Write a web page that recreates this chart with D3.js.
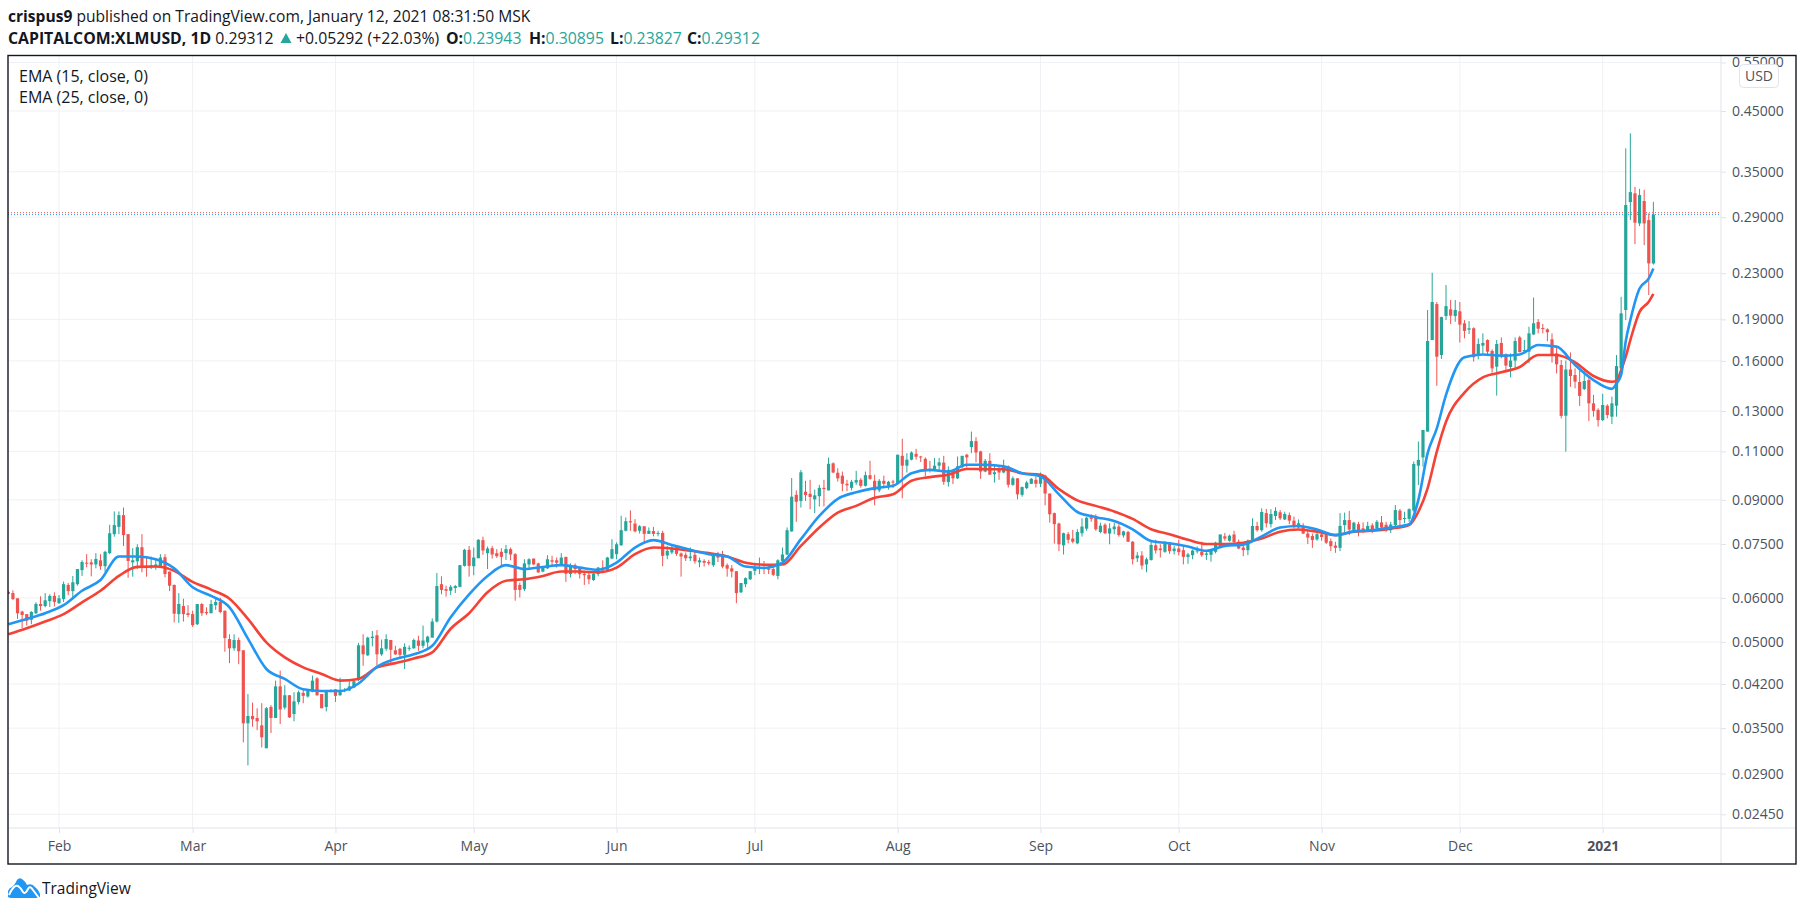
<!DOCTYPE html>
<html>
<head>
<meta charset="utf-8">
<script src="https://cdn.jsdelivr.net/npm/d3@7"></script>
<style>
  html, body { margin: 0; padding: 0; background: #fff; }
  svg { display: block; }
  text { font-family: "Open Sans", sans-serif; }
</style>
</head>
<body>
<svg id="chart" width="1805" height="911"></svg>
<script>
// daily candles, each row is open, high, low, close. first row of jan2020 is Jan 21
const jan2020 = [[.0615,.0618,.0609,.0610],[.0612,.0619,.0595,.0597],[.0599,.0599,.0550,.0563],[.0567,.0569,.0529,.0559],[.0561,.0561,.0535,.0546],[.0548,.0568,.0538,.0566],[.0563,.0589,.0561,.0585],[.0585,.0604,.0569,.0580],[.0580,.0612,.0577,.0594],[.0592,.0609,.0578,.0605],[.0605,.0614,.0579,.0590]];
const feb2020 = [[.0587,.0607,.0585,.0599],[.0597,.0642,.0590,.0635],[.0633,.0638,.0607,.0617],[.0617,.0657,.0597,.0640],[.0635,.0676,.0631,.0676],[.0673,.0701,.0657,.0696],[.0694,.0719,.0681,.0692],[.0695,.0704,.0656,.0689],[.0689,.0722,.0678,.0705],[.0701,.0719,.0674,.0684],[.0684,.0729,.0668,.0726],[.0722,.0812,.0719,.0784],[.0781,.0858,.0773,.0811],[.0805,.0858,.0781,.0845],[.0845,.0872,.0744,.0778],[.0781,.0781,.0652,.0699],[.0695,.0737,.0655,.0701],[.0698,.0749,.0676,.0740],[.0740,.0781,.0667,.0683],[.0685,.0709,.0655,.0680],[.0681,.0712,.0676,.0687],[.0683,.0704,.0674,.0689],[.0683,.0719,.0680,.0709],[.0710,.0719,.0653,.0662],[.0669,.0669,.0617,.0631],[.0633,.0634,.0542,.0562],[.0561,.0612,.0541,.0585],[.0580,.0598,.0544,.0561],[.0563,.0582,.0554,.0559]];
const mar2020 = [[.0561,.0569,.0532,.0536],[.0538,.0585,.0536,.0585],[.0585,.0587,.0557,.0563],[.0566,.0577,.0559,.0563],[.0563,.0595,.0563,.0585],[.0582,.0597,.0571,.0590],[.0590,.0600,.0563,.0566],[.0569,.0569,.0480,.0508],[.0506,.0516,.0458,.0487],[.0487,.0516,.0482,.0504],[.0504,.0509,.0456,.0481],[.0483,.0483,.0330,.0357],[.0357,.0403,.0300,.0368],[.0368,.0389,.0352,.0363],[.0365,.0380,.0347,.0360],[.0354,.0388,.0323,.0337],[.0322,.0382,.0322,.0380],[.0382,.0385,.0343,.0365],[.0365,.0426,.0365,.0416],[.0416,.0444,.0356,.0378],[.0381,.0418,.0378,.0401],[.0401,.0401,.0365,.0366],[.0371,.0406,.0360,.0391],[.0390,.0409,.0386,.0406],[.0405,.0411,.0388,.0400],[.0399,.0411,.0397,.0408],[.0407,.0435,.0406,.0426],[.0430,.0432,.0400,.0401],[.0403,.0403,.0380,.0380],[.0382,.0410,.0375,.0408],[.0407,.0411,.0406,.0410]];
const apr2020 = [[.0411,.0411,.0390,.0400],[.0401,.0431,.0400,.0410],[.0408,.0413,.0406,.0410],[.0409,.0425,.0408,.0416],[.0414,.0428,.0413,.0425],[.0427,.0498,.0425,.0493],[.0493,.0516,.0453,.0475],[.0473,.0511,.0472,.0509],[.0508,.0523,.0491,.0511],[.0514,.0525,.0453,.0475],[.0475,.0505,.0472,.0487],[.0486,.0516,.0482,.0506],[.0504,.0504,.0456,.0484],[.0483,.0492,.0474,.0475],[.0486,.0488,.0466,.0474],[.0474,.0497,.0447,.0490],[.0487,.0493,.0482,.0488],[.0487,.0507,.0486,.0504],[.0503,.0513,.0482,.0492],[.0492,.0535,.0487,.0503],[.0499,.0513,.0488,.0511],[.0509,.0551,.0509,.0544],[.0544,.0665,.0542,.0630],[.0635,.0656,.0609,.0620],[.0622,.0631,.0603,.0618],[.0618,.0633,.0607,.0628],[.0625,.0633,.0612,.0630],[.0628,.0687,.0627,.0687],[.0685,.0735,.0683,.0732],[.0732,.0744,.0655,.0685]];
const may2020 = [[.0684,.0739,.0659,.0709],[.0707,.0765,.0707,.0763],[.0762,.0773,.0717,.0730],[.0722,.0742,.0676,.0736],[.0737,.0744,.0706,.0718],[.0722,.0734,.0708,.0713],[.0726,.0737,.0683,.0711],[.0722,.0747,.0702,.0734],[.0734,.0739,.0701,.0718],[.0719,.0722,.0593,.0620],[.0633,.0639,.0601,.0620],[.0622,.0704,.0617,.0692],[.0689,.0707,.0676,.0704],[.0706,.0706,.0687,.0689],[.0692,.0694,.0665,.0667],[.0669,.0683,.0667,.0680],[.0678,.0716,.0676,.0704],[.0701,.0714,.0683,.0697],[.0701,.0709,.0680,.0694],[.0690,.0722,.0688,.0709],[.0711,.0711,.0641,.0663],[.0662,.0692,.0653,.0687],[.0687,.0692,.0662,.0676],[.0678,.0683,.0650,.0662],[.0663,.0671,.0633,.0659],[.0660,.0667,.0635,.0648],[.0646,.0669,.0644,.0663],[.0662,.0682,.0656,.0680],[.0680,.0701,.0667,.0672],[.0672,.0711,.0670,.0709],[.0706,.0765,.0704,.0734]];
const jun2020 = [[.0719,.0755,.0704,.0749],[.0746,.0843,.0744,.0794],[.0792,.0837,.0790,.0824],[.0824,.0862,.0792,.0820],[.0816,.0831,.0787,.0790],[.0792,.0811,.0783,.0807],[.0807,.0807,.0755,.0782],[.0782,.0803,.0782,.0792],[.0791,.0805,.0774,.0782],[.0782,.0792,.0774,.0785],[.0785,.0792,.0684,.0714],[.0715,.0744,.0704,.0729],[.0724,.0747,.0719,.0739],[.0740,.0744,.0714,.0720],[.0721,.0724,.0655,.0712],[.0717,.0724,.0699,.0707],[.0707,.0739,.0699,.0712],[.0717,.0729,.0691,.0698],[.0695,.0709,.0681,.0701],[.0699,.0704,.0683,.0694],[.0696,.0702,.0687,.0692],[.0687,.0722,.0682,.0719],[.0718,.0726,.0696,.0709],[.0719,.0729,.0678,.0683],[.0687,.0692,.0655,.0677],[.0678,.0687,.0653,.0669],[.0670,.0670,.0587,.0612],[.0614,.0638,.0612,.0638],[.0635,.0653,.0627,.0651],[.0648,.0671,.0646,.0670]];
const jul2020 = [[.0671,.0694,.0659,.0680],[.0680,.0709,.0662,.0678],[.0679,.0699,.0662,.0676],[.0678,.0689,.0662,.0674],[.0676,.0683,.0657,.0660],[.0657,.0704,.0648,.0701],[.0699,.0739,.0696,.0718],[.0718,.0803,.0716,.0794],[.0790,.0985,.0789,.0912],[.0919,.0936,.0822,.0893],[.0896,.1019,.0872,.1009],[.0931,.0974,.0896,.0918],[.0923,.0978,.0866,.0911],[.0902,.0939,.0852,.0917],[.0914,.0958,.0876,.0946],[.0946,.0978,.0876,.0941],[.0936,.1072,.0936,.1045],[.1047,.1051,.1005,.1008],[.1007,.1026,.0971,.0984],[.0995,.1012,.0933,.0962],[.0962,.0978,.0933,.0956],[.0946,.0978,.0936,.0970],[.0967,.1015,.0958,.0977],[.0978,.0985,.0947,.0954],[.0954,.1012,.0951,.0997],[.0997,.1058,.0978,.0982],[.0974,.0999,.0880,.0936],[.0936,.0981,.0929,.0974],[.0974,.0995,.0945,.0962],[.0955,.0974,.0939,.0970],[.0971,.0978,.0945,.0967]];
const aug2020 = [[.0962,.1085,.0958,.1085],[.1080,.1159,.0906,.1037],[.1037,.1092,.1008,.1063],[.1063,.1100,.1060,.1095],[.1089,.1112,.1063,.1076],[.1077,.1080,.1053,.1073],[.1067,.1073,.0992,.1015],[.1022,.1058,.1008,.1015],[.1019,.1070,.1016,.1037],[.1037,.1070,.1019,.1051],[.1050,.1080,.0958,.0970],[.0969,.1034,.0951,.1019],[.1015,.1019,.0961,.0984],[.0984,.1077,.0981,.1034],[.1031,.1080,.1026,.1080],[.1085,.1089,.1029,.1073],[.1120,.1194,.1092,.1148],[.1148,.1167,.1051,.1095],[.1100,.1103,.0982,.1012],[.1012,.1066,.1009,.1058],[.1058,.1092,.0999,.0999],[.1001,.1044,.0967,.1009],[.1019,.1034,.0978,.1008],[.1008,.1063,.1005,.1034],[.1034,.1038,.0947,.0958],[.0958,.0992,.0954,.0984],[.0984,.0985,.0902,.0921],[.0919,.0951,.0912,.0949],[.0945,.0974,.0941,.0967],[.0962,.0985,.0961,.0982],[.0978,.0992,.0947,.0962]];
const sep2020 = [[.0962,.1008,.0949,.0992],[.0995,.0999,.0880,.0924],[.0924,.0924,.0819,.0848],[.0852,.0854,.0751,.0814],[.0816,.0819,.0728,.0749],[.0746,.0786,.0718,.0784],[.0781,.0788,.0752,.0763],[.0767,.0795,.0752,.0757],[.0752,.0797,.0749,.0788],[.0784,.0834,.0773,.0806],[.0799,.0838,.0792,.0836],[.0838,.0848,.0822,.0832],[.0842,.0848,.0792,.0797],[.0788,.0819,.0784,.0809],[.0812,.0817,.0781,.0784],[.0783,.0817,.0749,.0800],[.0797,.0819,.0781,.0806],[.0806,.0814,.0773,.0778],[.0777,.0792,.0770,.0790],[.0788,.0792,.0756,.0757],[.0757,.0759,.0689,.0704],[.0707,.0725,.0696,.0715],[.0715,.0728,.0675,.0686],[.0689,.0709,.0667,.0704],[.0702,.0756,.0700,.0747],[.0746,.0763,.0721,.0730],[.0736,.0749,.0709,.0731],[.0726,.0759,.0723,.0756],[.0752,.0756,.0720,.0728],[.0728,.0744,.0718,.0736]];
const oct2020 = [[.0736,.0763,.0715,.0725],[.0731,.0744,.0689,.0711],[.0711,.0723,.0691,.0718],[.0716,.0733,.0704,.0730],[.0727,.0742,.0721,.0730],[.0726,.0757,.0711,.0716],[.0717,.0728,.0702,.0721],[.0717,.0733,.0697,.0729],[.0726,.0757,.0721,.0754],[.0743,.0780,.0739,.0780],[.0774,.0785,.0760,.0767],[.0760,.0780,.0757,.0776],[.0780,.0792,.0752,.0756],[.0757,.0764,.0734,.0736],[.0739,.0750,.0713,.0731],[.0731,.0764,.0716,.0760],[.0760,.0834,.0757,.0808],[.0808,.0822,.0789,.0794],[.0794,.0869,.0789,.0856],[.0852,.0867,.0803,.0817],[.0814,.0866,.0803,.0849],[.0842,.0873,.0828,.0860],[.0855,.0863,.0828,.0834],[.0830,.0857,.0828,.0849],[.0845,.0854,.0814,.0826],[.0826,.0840,.0800,.0808],[.0803,.0830,.0800,.0817],[.0808,.0817,.0781,.0783],[.0783,.0792,.0750,.0770],[.0775,.0783,.0738,.0762],[.0764,.0789,.0760,.0781]];
const nov2020 = [[.0780,.0787,.0760,.0772],[.0778,.0783,.0750,.0754],[.0759,.0767,.0728,.0743],[.0745,.0757,.0723,.0738],[.0738,.0852,.0728,.0808],[.0811,.0854,.0783,.0828],[.0828,.0860,.0778,.0796],[.0792,.0822,.0785,.0819],[.0814,.0822,.0774,.0792],[.0800,.0820,.0785,.0792],[.0792,.0822,.0789,.0808],[.0810,.0817,.0785,.0792],[.0800,.0828,.0792,.0822],[.0820,.0842,.0791,.0803],[.0812,.0822,.0789,.0794],[.0794,.0822,.0785,.0813],[.0811,.0881,.0808,.0863],[.0861,.0867,.0806,.0828],[.0833,.0857,.0817,.0835],[.0832,.0869,.0822,.0866],[.0861,.1055,.0857,.1044],[.1037,.1146,.0957,.1062],[.1073,.1202,.1033,.1202],[.1194,.1975,.1194,.1737],[.1744,.2304,.1744,.2041],[.2024,.2041,.1443,.1628],[.1639,.1921,.1613,.1918],[.1926,.2190,.1894,.2007],[.1980,.2058,.1864,.1929],[.1926,.2058,.1881,.1975]];
const dec2020 = [[.1964,.2041,.1726,.1859],[.1869,.1894,.1756,.1811],[.1821,.1886,.1788,.1831],[.1831,.1838,.1595,.1624],[.1635,.1756,.1610,.1716],[.1704,.1793,.1650,.1723],[.1744,.1749,.1639,.1662],[.1667,.1678,.1524,.1551],[.1562,.1744,.1386,.1716],[.1723,.1763,.1617,.1628],[.1643,.1650,.1536,.1569],[.1560,.1650,.1495,.1602],[.1602,.1763,.1540,.1737],[.1763,.1775,.1657,.1659],[.1664,.1744,.1650,.1673],[.1662,.1843,.1584,.1793],[.1785,.2079,.1780,.1869],[.1879,.1902,.1793,.1828],[.1833,.1864,.1793,.1826],[.1823,.1831,.1735,.1801],[.1749,.1793,.1589,.1643],[.1650,.1697,.1519,.1577],[.1573,.1606,.1261,.1274],[.1275,.1602,.1099,.1544],[.1544,.1657,.1437,.1503],[.1509,.1551,.1428,.1468],[.1466,.1540,.1328,.1384],[.1424,.1534,.1418,.1472],[.1478,.1489,.1247,.1342],[.1342,.1390,.1270,.1301],[.1306,.1315,.1219,.1252]];
const jan2021 = [[.1252,.1396,.1247,.1333],[.1329,.1337,.1261,.1279],[.1270,.1380,.1232,.1342],[.1329,.1639,.1270,.1566],[.1551,.2086,.1540,.1948],[.1975,.3855,.1894,.3049],[.3087,.4102,.2865,.3217],[.3200,.3289,.2594,.2834],[.2826,.3261,.2795,.3178],[.3100,.3248,.2583,.2826],[.2865,.2946,.2101,.2395],[.23943,.30895,.23827,.29312]];

// EMA lines, days are counted from Jan 21 2020
const emaDays = [0,4,8,12,16,20,24,28,32,36,40,44,48,52,56,60,64,68,72,76,80,84,88,92,96,100,104,108,112,116,120,124,128,132,136,140,144,148,152,156,160,164,168,172,176,180,184,188,192,196,200,204,208,212,216,220,224,228,232,236,240,244,248,252,256,260,264,268,272,276,280,284,288,292,296,300,304,306,308,310,312,316,320,324,328,332,336,340,344,348,349,350,351,352,354,356,357];
const ema15 = [.0538,.0550,.0563,.0582,.0618,.0646,.0712,.0712,.0704,.0678,.0627,.0605,.0577,.0507,.0447,.0429,.0411,.0408,.0408,.0421,.0451,.0466,.0475,.0492,.0554,.0609,.0657,.0687,.0676,.0682,.0687,.0680,.0674,.0694,.0739,.0762,.0747,.0732,.0719,.0712,.0683,.0679,.0694,.0765,.0842,.0904,.0929,.0945,.0954,.1005,.1019,.1012,.1041,.1041,.1034,.1005,.0992,.0921,.0856,.0838,.0825,.0797,.0759,.0752,.0742,.0729,.0744,.0748,.0774,.0803,.0808,.0796,.0778,.0790,.0794,.0803,.0814,.0900,.1091,.1210,.1390,.1624,.1643,.1635,.1643,.1709,.1697,.1573,.1478,.1425,.1457,.1509,.1735,.1894,.2159,.2251,.2346];
const ema25 = [.0516,.0529,.0544,.0561,.0589,.0618,.0657,.0682,.0683,.0671,.0641,.0621,.0598,.0550,.0499,.0469,.0450,.0438,.0426,.0429,.0450,.0458,.0467,.0479,.0528,.0563,.0614,.0644,.0648,.0657,.0669,.0669,.0667,.0680,.0719,.0739,.0736,.0729,.0722,.0712,.0694,.0688,.0689,.0744,.0803,.0854,.0878,.0908,.0921,.0974,.0989,.0999,.1023,.1022,.1022,.1005,.0999,.0941,.0898,.0878,.0858,.0832,.0797,.0781,.0763,.0750,.0750,.0754,.0767,.0789,.0796,.0789,.0778,.0789,.0792,.0799,.0811,.0857,.0944,.1099,.1244,.1403,.1495,.1526,.1560,.1639,.1639,.1590,.1503,.1468,.1472,.1540,.1628,.1744,.1960,.2044,.2111];

const priceTicks = [0.55,0.45,0.35,0.29,0.23,0.19,0.16,0.13,0.11,0.09,0.075,0.06,0.05,0.042,0.035,0.029,0.0245];
const monthNames = ["Feb","Mar","Apr","May","Jun","Jul","Aug","Sep","Oct","Nov","Dec","2021"];
const monthDates = monthNames.map((m, i) => new Date(Date.UTC(2020, i + 1, 1)));
const emaLegend = ["EMA (15, close, 0)", "EMA (25, close, 0)"];
const lastClose = 0.29312; // blue dotted line
const prevLevel = 0.2954;  // red dotted line

const upColor = "#26a69a";
const downColor = "#ef5350";
const textColor = "#4c525e";
const gridColor = "#f0f1f4";
const axisColor = "#e0e3eb";

const frameLeft = 8, frameRight = 1796, frameTop = 55.5, frameBottom = 864;
const axisX = 1721, axisY = 828;

const svg = d3.select("#chart");

const firstDay = new Date(Date.UTC(2020, 0, 21));
const candles = [jan2020, feb2020, mar2020, apr2020, may2020, jun2020, jul2020, aug2020, sep2020, oct2020, nov2020, dec2020, jan2021]
  .flat()
  .map((d, i) => ({ date: d3.utcDay.offset(firstDay, i), o: d[0], h: d[1], l: d[2], c: d[3] }));

const x = d3.scaleUtc()
  .domain([new Date(Date.UTC(2020, 1, 1)), new Date(Date.UTC(2021, 0, 1))])
  .range([59, 1602.7]);

// log price scale, pinned on the 0.45 and 0.0245 gridlines
const y = d3.scaleLog().domain([0.45, 0.0245]).range([111, 814.3]);

svg.append("defs").append("clipPath").attr("id", "plot")
  .append("rect").attr("x", frameLeft).attr("y", frameTop).attr("width", axisX - frameLeft).attr("height", axisY - frameTop);

// grid, one line per tick
svg.append("g").attr("clip-path", "url(#plot)")
  .selectAll("line.v").data(monthDates).join("line")
  .attr("x1", d => x(d)).attr("x2", d => x(d)).attr("y1", frameTop).attr("y2", axisY)
  .attr("stroke", gridColor);
svg.append("g").attr("clip-path", "url(#plot)")
  .selectAll("line.h").data(priceTicks).join("line")
  .attr("x1", frameLeft).attr("x2", axisX).attr("y1", d => y(d)).attr("y2", d => y(d))
  .attr("stroke", gridColor);

const plot = svg.append("g").attr("clip-path", "url(#plot)");

// dotted level lines
plot.append("line").attr("x1", frameLeft).attr("x2", axisX)
  .attr("y1", y(prevLevel)).attr("y2", y(prevLevel))
  .attr("stroke", downColor).attr("stroke-dasharray", "1 2");
plot.append("line").attr("x1", frameLeft).attr("x2", axisX)
  .attr("y1", y(lastClose)).attr("y2", y(lastClose))
  .attr("stroke", "#2196f3").attr("stroke-dasharray", "1 2");

// candles
const candle = plot.selectAll("g.candle").data(candles).join("g")
  .attr("class", "candle")
  .attr("fill", d => d.c >= d.o ? upColor : downColor)
  .attr("stroke", d => d.c >= d.o ? upColor : downColor);
candle.append("line")
  .attr("x1", d => x(d.date)).attr("x2", d => x(d.date))
  .attr("y1", d => y(d.h)).attr("y2", d => y(d.l))
  .attr("stroke-width", 1);
candle.append("rect")
  .attr("x", d => x(d.date) - 1.6)
  .attr("width", 3.2)
  .attr("y", d => y(Math.max(d.o, d.c)))
  .attr("height", d => Math.max(1, Math.abs(y(d.o) - y(d.c))))
  .attr("stroke", "none");

// EMA lines
const emaLine = values => d3.line()
  .x((d, i) => x(d3.utcDay.offset(firstDay, d)))
  .y((d, i) => y(values[i]))
  .curve(d3.curveMonotoneX)(emaDays);
plot.append("path").attr("d", emaLine(ema25)).attr("fill", "none")
  .attr("stroke", "#f44336").attr("stroke-width", 2.6).attr("stroke-linejoin", "round");
plot.append("path").attr("d", emaLine(ema15)).attr("fill", "none")
  .attr("stroke", "#2196f3").attr("stroke-width", 2.6).attr("stroke-linejoin", "round");

// axis lines
svg.append("line").attr("x1", axisX).attr("x2", axisX).attr("y1", frameTop).attr("y2", frameBottom).attr("stroke", axisColor);
svg.append("line").attr("x1", frameLeft).attr("x2", frameRight).attr("y1", axisY).attr("y2", axisY).attr("stroke", axisColor);

const timeAxis = svg.append("g")
  .attr("transform", `translate(0,${axisY})`)
  .call(d3.axisBottom(x).tickValues(monthDates).tickSize(5).tickPadding(8)
    .tickFormat((d, i) => monthNames[i]));
timeAxis.select(".domain").remove();
timeAxis.selectAll("line").attr("stroke", axisColor);
timeAxis.selectAll("text")
  .attr("fill", textColor)
  .style("font-size", "14px")
  .style("font-weight", d => d.getUTCFullYear() == 2021 ? 700 : 400);

const priceAxis = svg.append("g")
  .attr("transform", `translate(${axisX},0)`)
  .call(d3.axisRight(y).tickValues(priceTicks).tickSize(5).tickPadding(6)
    .tickFormat(d3.format(".5f")));
priceAxis.select(".domain").remove();
priceAxis.selectAll("line").attr("stroke", axisColor);
priceAxis.selectAll("text").attr("fill", textColor).style("font-size", "14px");

// currency badge sits over the top tick label
svg.append("rect").attr("x", 1739.5).attr("y", 64.5).attr("width", 39).attr("height", 23).attr("rx", 4)
  .attr("fill", "#fff").attr("stroke", axisColor);
svg.append("text").attr("x", 1759).attr("y", 81).attr("text-anchor", "middle")
  .attr("fill", textColor).style("font-size", "14px").text("USD");

// white strip keeps the clipped top label inside the frame, then the frame
svg.append("rect").attr("x", axisX + 1).attr("y", 40).attr("width", frameRight - axisX).attr("height", frameTop - 40).attr("fill", "#fff");
svg.append("rect").attr("x", frameLeft).attr("y", frameTop).attr("width", frameRight - frameLeft).attr("height", frameBottom - frameTop)
  .attr("fill", "none").attr("stroke", "#131722").attr("stroke-width", 1.4);

// indicator legend
svg.selectAll("text.legend").data(emaLegend).join("text").attr("class", "legend")
  .attr("x", 19).attr("y", (d, i) => 82 + i * 21)
  .attr("fill", "#131722").style("font-size", "16px").text(d => d);

// header
const head1 = svg.append("text").attr("x", 8).attr("y", 22).attr("fill", "#131722").style("font-size", "15.6px");
head1.append("tspan").style("font-weight", 700).text("crispus9");
head1.append("tspan").text(" published on TradingView.com, January 12, 2021 08:31:50 MSK");

const head2 = svg.append("text").attr("x", 8).attr("y", 44).attr("fill", "#131722").style("font-size", "15.8px");
head2.append("tspan").style("font-weight", 700).text("CAPITALCOM:XLMUSD, 1D");
head2.append("tspan").text(" 0.29312");
head2.append("tspan").attr("x", 296).text("+0.05292 (+22.03%)");
[["O:", "0.23943", 446], ["H:", "0.30895", 529], ["L:", "0.23827", 610], ["C:", "0.29312", 687]].forEach(p => {
  head2.append("tspan").attr("x", p[2]).style("font-weight", 700).text(p[0]);
  head2.append("tspan").attr("fill", upColor).text(p[1]);
});
// up arrow between close and change
svg.append("path").attr("d", "M280.5 43 L286 33 L291.5 43 Z").attr("fill", upColor);

// logo
const logo = svg.append("g").attr("transform", "translate(8,878)");
logo.append("path").attr("fill", "#2196f3")
  .attr("d", "M0 19 L0 13 Q1 10 4 9 Q7 7 9 2 Q11 -1 14 1 Q17 3 19 7 Q24 5 27 9 Q31 12 32 16 L32 19 Q30 20 27 20 L4 20 Q1 20 0 19 Z");
logo.append("path").attr("fill", "none").attr("stroke", "#fff").attr("stroke-width", 2)
  .attr("d", "M1 17 Q6 6 10 8 Q13 10 15 14 Q17 17 20 11 Q22 7 25 12 L31 20");
svg.append("text").attr("x", 42).attr("y", 894).attr("fill", "#131722")
  .style("font-size", "15.5px").text("TradingView");
</script>
</body>
</html>
